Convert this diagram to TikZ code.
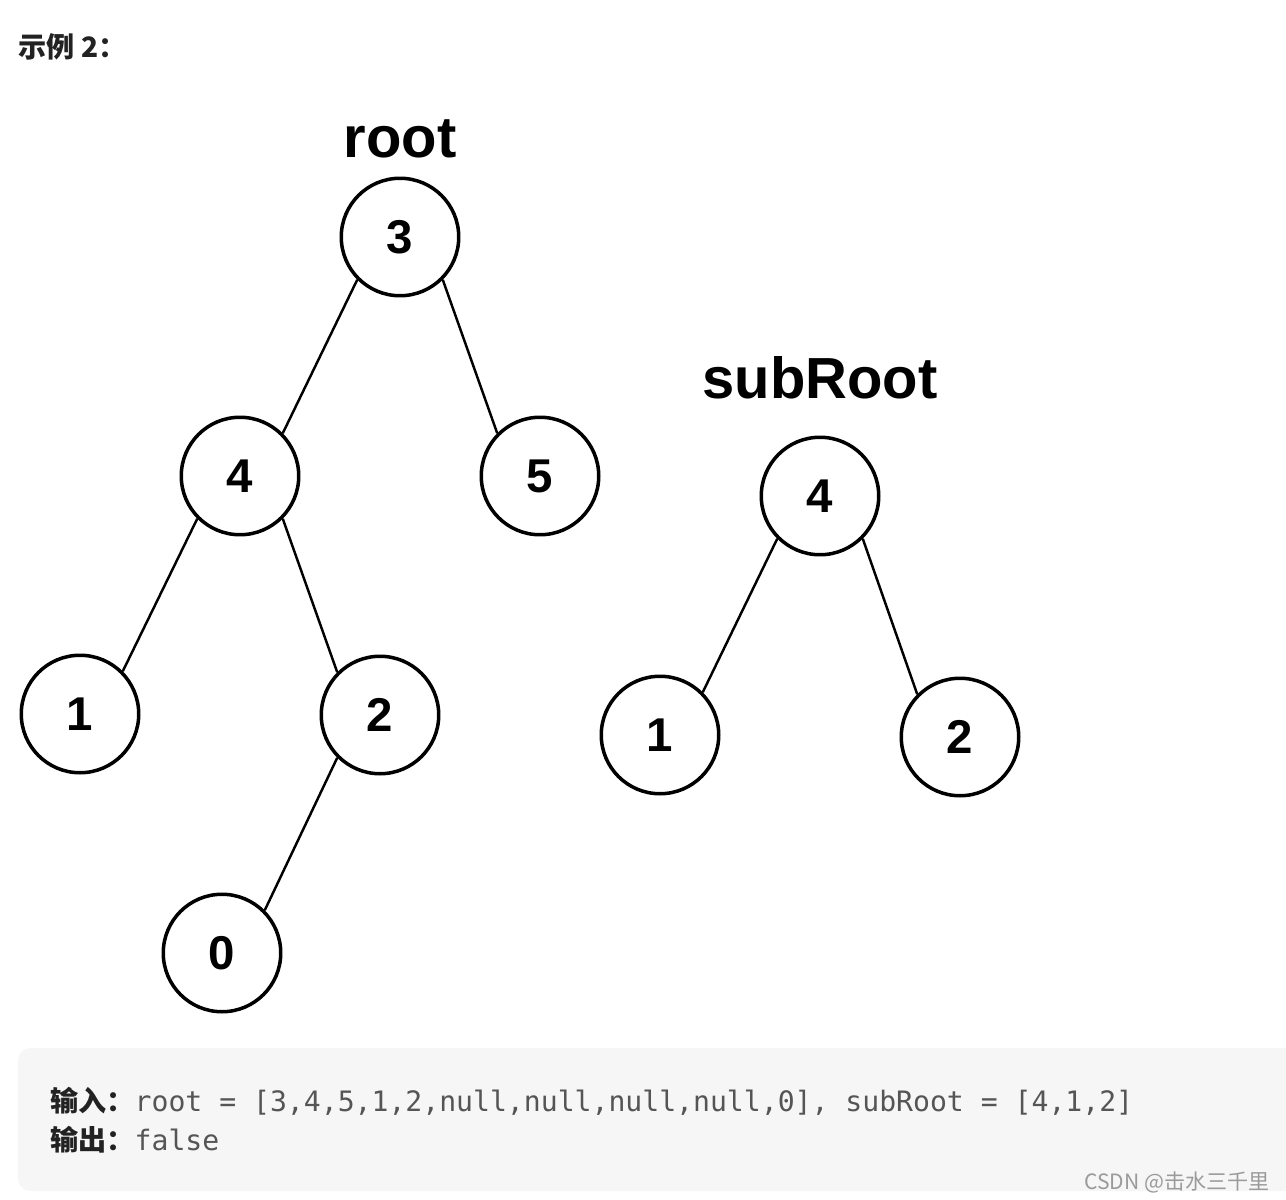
\documentclass[tikz,border=0pt]{standalone}
\usepackage{fontspec}
\setmainfont{Liberation Sans}
\setmonofont{DejaVu Sans Mono}
\newfontfamily\cjk{Noto Sans CJK SC}
\definecolor{boxgray}{HTML}{F6F6F6}
\definecolor{codegray}{HTML}{555555}
\definecolor{headblack}{HTML}{222222}
\definecolor{markgray}{HTML}{9A9A9A}

\begin{document}
\begin{tikzpicture}[x=0.02cm, y=-0.02cm,
		treenode/.style={circle, draw, line width=2pt, minimum size=2.35cm, inner sep=0pt, font=\fontsize{27}{27}\selectfont\bfseries},
		treeedge/.style={line width=1.4pt},
		treelabel/.style={anchor=base, inner sep=0pt, font=\fontsize{33}{33}\selectfont\bfseries},
		textline/.style={anchor=base west, inner sep=0pt, font=\fontsize{16}{16}\selectfont}]
			\useasboundingbox (0,0) rectangle (1286,1200);
			\node (title) [anchor=base west, inner sep=0pt, text=headblack, font=\cjk\fontsize{16}{16}\selectfont\bfseries] at (18,57) {示例 2：};
			% root tree
			\node (rootlabel) [treelabel] at (400,157) {root};
			\node (r3) [treenode] at (400,237) {3};
			\node (r4) [treenode] at (240,476) {4};
			\node (r5) [treenode] at (540,476) {5};
			\node (r1) [treenode] at (80,714) {1};
			\node (r2) [treenode] at (380,715) {2};
			\node (r0) [treenode] at (222,953) {0};
			\draw[treeedge] (r3.south west) -- (r4.north east);
			\draw[treeedge] (r3.south east) -- (r5.north west);
			\draw[treeedge] (r4.south west) -- (r1.north east);
			\draw[treeedge] (r4.south east) -- (r2.north west);
			\draw[treeedge] (r2.south west) -- (r0.north east);
			% subRoot tree
			\node (sublabel) [treelabel] at (820,398) {subRoot};
			\node (s4) [treenode] at (820,496) {4};
			\node (s1) [treenode] at (660,735) {1};
			\node (s2) [treenode] at (960,737) {2};
			\draw[treeedge] (s4.south west) -- (s1.north east);
			\draw[treeedge] (s4.south east) -- (s2.north west);
			% input / output box
			\fill[boxgray, rounded corners=0.25cm] (18,1048) rectangle (1310,1191);
			\node (inputline) [textline] at (50,1111) {{\cjk\bfseries\color{headblack}输入：}{\ttfamily\color{codegray}root = [3,4,5,1,2,null,null,null,null,0], subRoot = [4,1,2]}};
			\node (outputline) [textline] at (50,1150) {{\cjk\bfseries\color{headblack}输出：}{\ttfamily\color{codegray}false}};
			\node (mark) [anchor=base east, inner sep=0pt, text=markgray, font=\cjk\fontsize{12}{12}\selectfont] at (1270,1189) {CSDN @击水三千里};
		\end{tikzpicture}
\end{document}
